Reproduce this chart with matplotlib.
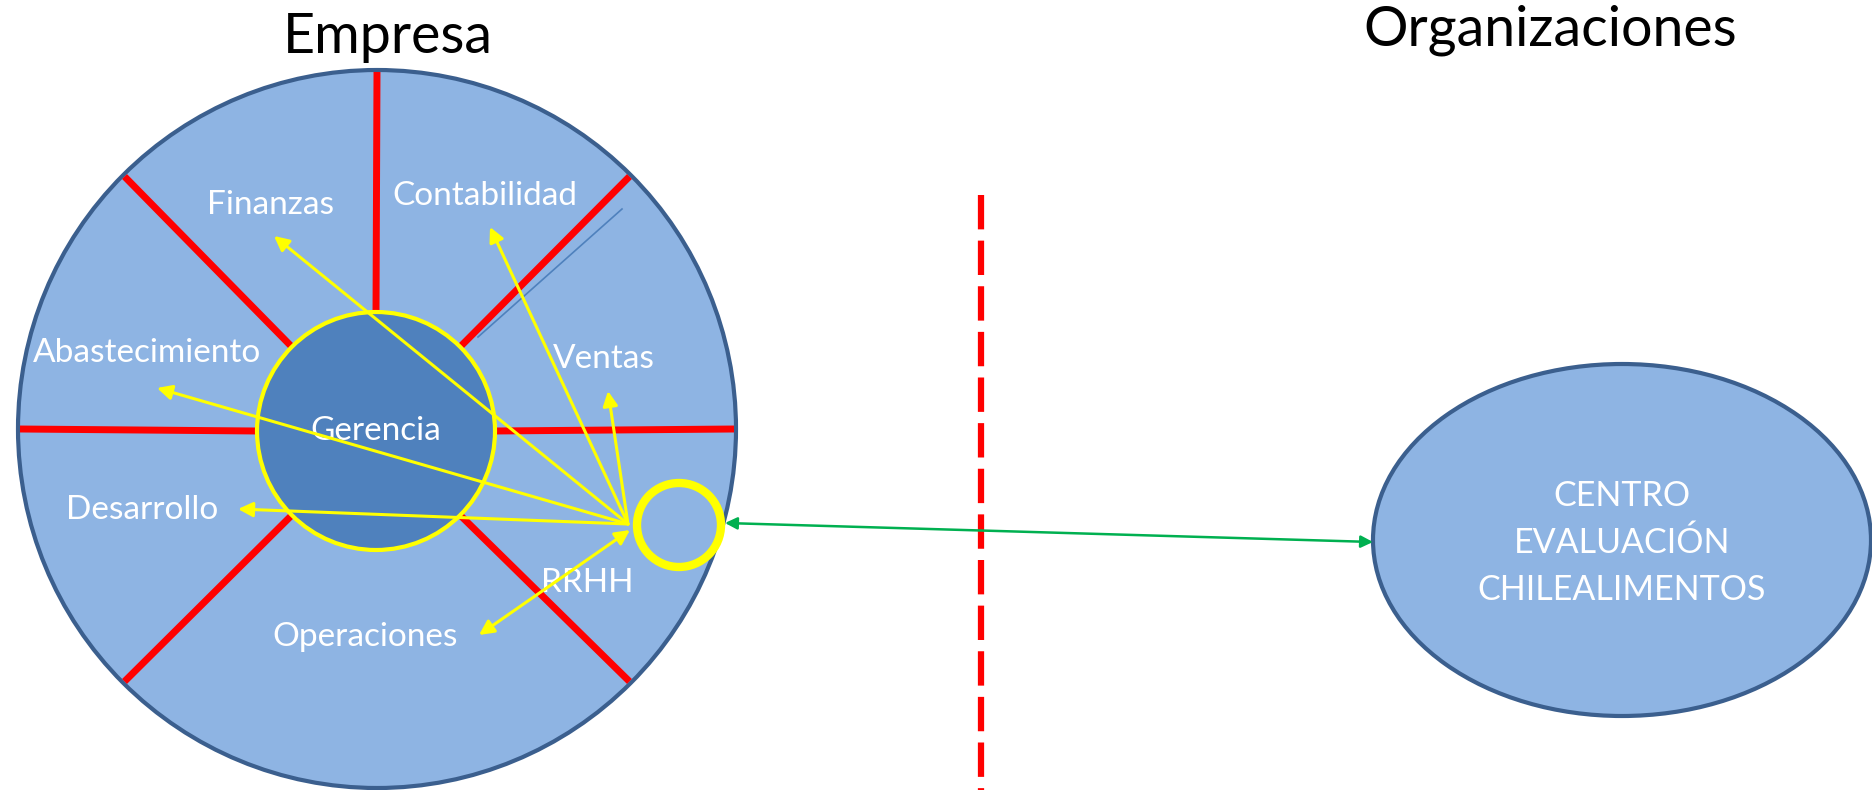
import matplotlib.pyplot as plt
from matplotlib.patches import Circle, Ellipse
import numpy as np

plt.rcParams["font.family"] = ["Lato", "DejaVu Sans"]

# diagram content (pixel coordinates, y down)
titles = ["Empresa", "Organizaciones"]
title_xy = [(388, 53), (1550, 45)]

departments = ["Finanzas", "Contabilidad", "Abastecimiento", "Ventas",
               "Desarrollo", "RRHH", "Operaciones"]
dept_label_xy = [(271, 205), (485, 196), (147, 353), (604, 359),
                 (142, 510), (587, 583), (365, 637)]
arrow_tips = [(274, 236), (490, 227), (157, 388), (608, 391),
              (238, 509), None, (479, 635)]
arrow_origin = (628, 524)
operaciones_origin = (630, 530)

center_label = "Gerencia"
outer_center, outer_r = (377, 429), 359
inner_center, inner_r = (376, 431), 119
divider_angles = [0, 45, 90, 135, 180, 225, 315]

rrhh_center, rrhh_r = (679, 525), 42

ext_label = "CENTRO\nEVALUACIÓN\nCHILEALIMENTOS"
ext_center, ext_w, ext_h = (1622, 540), 498, 352
ext_label_y = 543
link_start, link_end = (725, 523), (1373, 542)

boundary_x, boundary_y = 981, (195, 790)

fill_light = "#8EB4E3"
fill_dark = "#4F81BD"
edge_blue = "#3B5F8E"

fig = plt.figure(figsize=(18.72, 7.90), dpi=100)
ax = fig.add_axes([0, 0, 1, 1])
ax.set_xlim(0, 1872)
ax.set_ylim(790, 0)
ax.set_aspect("equal")
ax.axis("off")

ax.add_patch(Circle(outer_center, outer_r, fc=fill_light, ec=edge_blue, lw=3, zorder=1))

for a in divider_angles:
    t = np.deg2rad(a)
    x0 = inner_center[0] + inner_r * np.cos(t)
    y0 = inner_center[1] - inner_r * np.sin(t)
    x1 = outer_center[0] + (outer_r - 2) * np.cos(t)
    y1 = outer_center[1] - (outer_r - 2) * np.sin(t)
    ax.plot([x0, x1], [y0, y1], color="#FF0000", lw=5, solid_capstyle="butt", zorder=2)

ax.plot([478, 622], [337, 209], color=fill_dark, lw=1.2, zorder=2)

ax.add_patch(Circle(inner_center, inner_r, fc=fill_dark, ec="#FFFF00", lw=3, zorder=3))
ax.add_patch(Circle(rrhh_center, rrhh_r, fc="none", ec="#FFFF00", lw=6, zorder=3))

for name, (x, y) in zip(departments, dept_label_xy):
    ax.text(x, y, name, color="white", fontsize=24, ha="center", va="center", zorder=4)
ax.text(inner_center[0], inner_center[1], center_label, color="white", fontsize=24,
        ha="center", va="center", zorder=4)

for name, tip in zip(departments, arrow_tips):
    if tip is None:
        continue
    style = "<|-|>" if name == "Operaciones" else "-|>"
    start = operaciones_origin if name == "Operaciones" else arrow_origin
    ax.annotate("", xy=tip, xytext=start,
                arrowprops=dict(arrowstyle=style, color="#FFFF00", lw=2.2,
                                mutation_scale=22, shrinkA=0, shrinkB=0),
                zorder=5)

ax.plot([boundary_x, boundary_x], boundary_y, color="#FF0000", lw=4.5,
        dashes=(5.5, 1.8), zorder=2)

ax.add_patch(Ellipse(ext_center, ext_w, ext_h, fc=fill_light, ec=edge_blue, lw=3, zorder=1))
ax.text(ext_center[0], ext_label_y, ext_label, color="white", fontsize=24.5,
        ha="center", va="center", linespacing=1.55, zorder=4)

ax.annotate("", xy=link_end, xytext=link_start,
            arrowprops=dict(arrowstyle="<|-|>", color="#00B050", lw=1.8,
                            mutation_scale=18, shrinkA=0, shrinkB=0),
            zorder=5)

for t, (x, y) in zip(titles, title_xy):
    ax.text(x, y, t, color="black", fontsize=40, ha="center", va="baseline")

fig.savefig("out.png", dpi=100)
